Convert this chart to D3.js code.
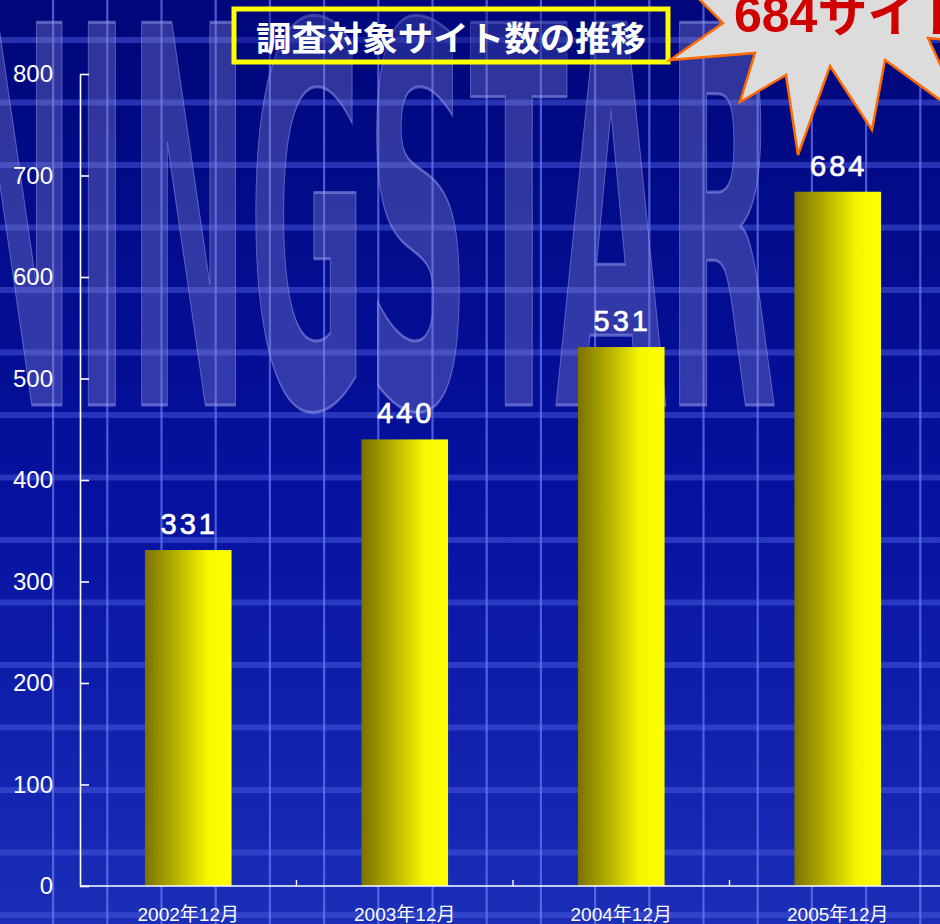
<!DOCTYPE html>
<html>
<head>
<meta charset="utf-8">
<script src="https://cdn.jsdelivr.net/npm/d3@7"></script>
<style>
  body { margin: 0; background: #000a80; overflow: hidden; }
</style>
</head>
<body>
<div id="chart"></div>
<script>
  // datos del grafico
  var categories = ["2002年12月", "2003年12月", "2004年12月", "2005年12月"];
  var values = [331, 440, 531, 684];
  var yTicks = [0, 100, 200, 300, 400, 500, 600, 700, 800];
  var title = "調査対象サイト数の推移";
  var callout = "684サイト";
  var watermark = "NINGSTAR";

  var W = 940, H = 924;
  var margin = {top: 74, right: -6, bottom: 38, left: 80};

  var svg = d3.select("#chart").append("svg")
    .attr("width", W)
    .attr("height", H);

  var defs = svg.append("defs");

  // fondo azul
  var bg = defs.append("linearGradient").attr("id", "bg")
    .attr("x1", 0).attr("y1", 0).attr("x2", 0).attr("y2", 1);
  bg.append("stop").attr("offset", "0%").attr("stop-color", "#00077a");
  bg.append("stop").attr("offset", "55%").attr("stop-color", "#0612a0");
  bg.append("stop").attr("offset", "100%").attr("stop-color", "#1a2eb8");

  // degradado de las barras
  var barGrad = defs.append("linearGradient").attr("id", "bar")
    .attr("x1", 0).attr("y1", 0).attr("x2", 1).attr("y2", 0);
  barGrad.append("stop").attr("offset", "0%").attr("stop-color", "#7a7200");
  barGrad.append("stop").attr("offset", "40%").attr("stop-color", "#bdb800");
  barGrad.append("stop").attr("offset", "72%").attr("stop-color", "#f6f600");
  barGrad.append("stop").attr("offset", "100%").attr("stop-color", "#ffff00");

  svg.append("rect").attr("width", W).attr("height", H).attr("fill", "url(#bg)");

  // rejilla decorativa del fondo
  svg.selectAll(".hband")
    .data(d3.range(40, H, 62.5)).enter()
    .append("rect")
      .attr("x", 0).attr("width", W)
      .attr("y", function(d) { return d - 3; })
      .attr("height", 6)
      .attr("fill", "#4a5ae0")
      .attr("opacity", 0.5);

  svg.selectAll(".vline")
    .data(d3.range(53, W, 54.2)).enter()
    .append("rect")
      .attr("x", function(d) { return d - 1; })
      .attr("width", 2.2)
      .attr("y", 0).attr("height", H)
      .attr("fill", "#6a7cf4")
      .attr("opacity", 0.7);

  // marca de agua
  svg.append("text")
    .attr("x", -45)
    .attr("y", 405)
    .attr("textLength", 822)
    .attr("lengthAdjust", "spacingAndGlyphs")
    .style("font-family", "'Liberation Sans Narrow', 'DejaVu Sans Condensed', sans-serif")
    .style("font-weight", "bold")
    .style("font-size", "525px")
    .style("fill", "#8486d0")
    .style("fill-opacity", 0.36)
    .style("stroke", "#a0a4f4")
    .style("stroke-opacity", 0.5)
    .style("stroke-width", 3)
    .text(watermark);

  // escalas
  var y = d3.scaleLinear()
    .domain([0, 800])
    .range([H - margin.bottom, margin.top]);

  var x = d3.scaleBand()
    .domain(categories)
    .range([margin.left, W - margin.right])
    .paddingInner(0.6)
    .paddingOuter(0.3);

  // eje y
  var yAxis = svg.append("g")
    .attr("transform", "translate(" + margin.left + ",0)")
    .call(d3.axisLeft(y).tickValues(yTicks).tickSize(-9).tickSizeOuter(0).tickPadding(27));
  yAxis.select(".domain").attr("stroke", "#fff").attr("stroke-width", 1.6);
  yAxis.selectAll(".tick line").attr("stroke", "#fff").attr("stroke-width", 1.6);
  yAxis.selectAll(".tick text")
    .attr("fill", "#fff")
    .style("font-family", "'Liberation Sans', Arial, sans-serif")
    .style("font-size", "24px");

  // barras
  svg.selectAll(".bar")
    .data(values).enter()
    .append("rect")
      .attr("x", function(d, i) { return x(categories[i]); })
      .attr("y", function(d) { return y(d); })
      .attr("width", x.bandwidth())
      .attr("height", function(d) { return y(0) - y(d); })
      .attr("fill", "url(#bar)");

  // valores encima de las barras
  svg.selectAll(".val")
    .data(values).enter()
    .append("text")
      .attr("x", function(d, i) { return x(categories[i]) + x.bandwidth() / 2 + 1; })
      .attr("y", function(d) { return y(d) - 16; })
      .attr("text-anchor", "middle")
      .style("font-family", "'Liberation Sans', Arial, sans-serif")
      .style("font-size", "29px")
      .style("letter-spacing", "3px")
      .style("fill", "#fff")
      .style("stroke", "#fff")
      .style("stroke-width", 0.7)
      .text(function(d) { return d; });

  // eje x
  var xAxis = svg.append("g")
    .attr("transform", "translate(0," + y(0) + ")")
    .call(d3.axisBottom(x).tickSize(0).tickPadding(0));
  xAxis.select(".domain").remove();
  xAxis.append("line")
    .attr("x1", margin.left).attr("x2", W)
    .attr("stroke", "#fff").attr("stroke-width", 1.6);
  xAxis.selectAll(".tick text")
    .attr("y", 35)
    .attr("dy", 0)
    .attr("fill", "#fff")
    .style("font-family", "'Liberation Sans', 'Noto Sans CJK JP', sans-serif")
    .style("font-size", "19px");

  // separadores entre categorias
  var sep = categories.slice(0, -1).map(function(c) {
    return x(c) + x.bandwidth() + (x.step() - x.bandwidth()) / 2;
  });
  xAxis.selectAll(".sep")
    .data(sep).enter()
    .append("line")
      .attr("x1", function(d) { return d; })
      .attr("x2", function(d) { return d; })
      .attr("y1", 0).attr("y2", -6)
      .attr("stroke", "#fff").attr("stroke-width", 1.4);

  // titulo con recuadro amarillo
  svg.append("rect")
    .attr("x", 234).attr("y", 9)
    .attr("width", 434).attr("height", 53)
    .attr("fill", "#000a80")
    .attr("fill-opacity", 0.35)
    .attr("stroke", "#ffff00")
    .attr("stroke-width", 5);
  svg.append("text")
    .attr("x", 451).attr("y", 51)
    .attr("text-anchor", "middle")
    .attr("textLength", 390)
    .attr("lengthAdjust", "spacingAndGlyphs")
    .style("font-family", "'Noto Sans CJK JP', sans-serif")
    .style("font-weight", "bold")
    .style("font-size", "34px")
    .style("fill", "#fff")
    .text(title);

  // estrella con el valor de 2005
  var burst = [[690,-10],[723,23],[670,60],[755,53],[740,102],[786,75],[798,155],
               [830,66],[872,130],[885,60],[965,118],[928,38],[990,45],[990,-10]];
  svg.append("path")
    .attr("d", d3.line()(burst) + "Z")
    .attr("fill", "#dcdcdc")
    .attr("stroke", "#ff6a00")
    .attr("stroke-width", 2.5)
    .attr("stroke-linejoin", "miter");
  svg.append("text")
    .attr("x", 734).attr("y", 32)
    .style("font-family", "'Liberation Sans', 'Noto Sans CJK JP', sans-serif")
    .style("font-weight", "bold")
    .style("font-size", "50px")
    .style("fill", "#d00000")
    .text(callout);
</script>
</body>
</html>
